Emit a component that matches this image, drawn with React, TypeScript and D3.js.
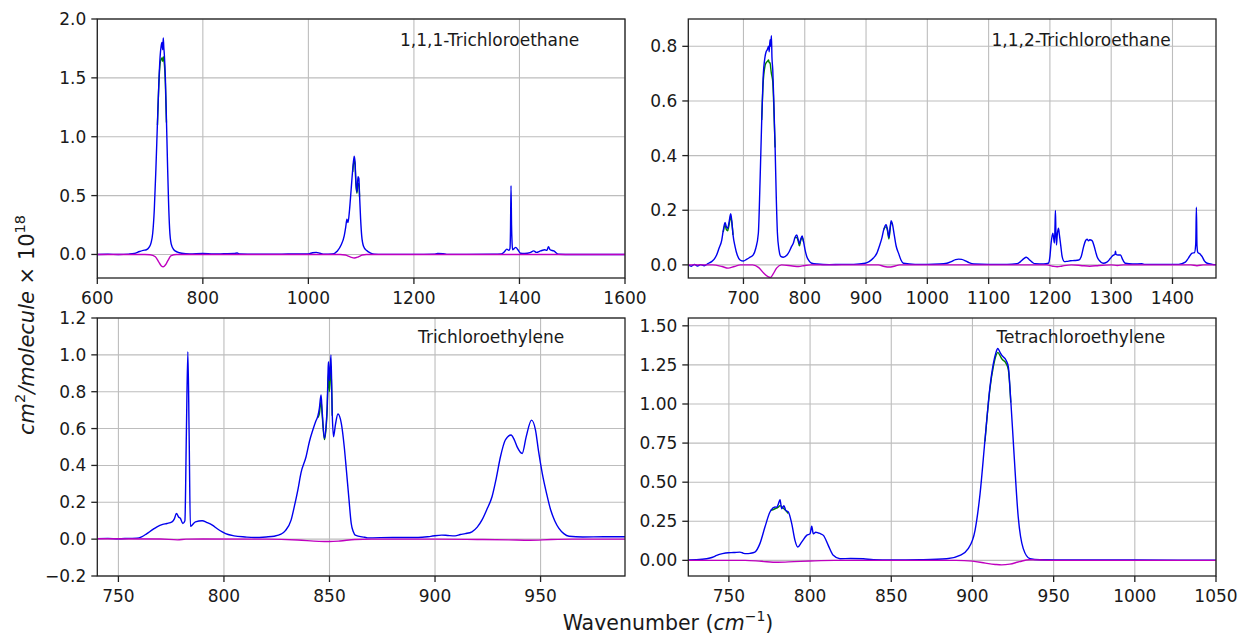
import React from "react";
import * as d3 from "d3";

// ---------- Panel 1: 1,1,1-Trichloroethane ----------
const p1Wn = [600, 620, 640, 660, 670, 680, 687, 693, 698, 702, 705, 708, 711, 714, 717, 719, 721, 722.5, 724, 725, 726, 727, 729, 731, 733, 735, 737, 740, 745, 752, 760, 775, 800, 820, 840, 860, 865, 870, 900, 950, 1000, 1008, 1015, 1022, 1030, 1045, 1055, 1062, 1068, 1071, 1073, 1075, 1078, 1081, 1084, 1086.8, 1088.5, 1090, 1092, 1094, 1095.7, 1097, 1099, 1101, 1104.5, 1110, 1118, 1125, 1140, 1200, 1238, 1245, 1255, 1262, 1300, 1350, 1366, 1372, 1376, 1380, 1382, 1383, 1384, 1385, 1386, 1387, 1390, 1393, 1397, 1402, 1410, 1420, 1427, 1432, 1440, 1448, 1452, 1455, 1458, 1465, 1474, 1500, 1550, 1600];
const p1Blue = [0.0, 0.002, 0.0, 0.003, 0.008, 0.025, 0.035, 0.04, 0.06, 0.1, 0.18, 0.38, 0.72, 1.12, 1.5, 1.68, 1.77, 1.8, 1.74, 1.84, 1.76, 1.7, 1.5, 1.15, 0.78, 0.45, 0.22, 0.09, 0.04, 0.02, 0.01, 0.004, 0.008, 0.004, 0.006, 0.008, 0.012, 0.004, 0.002, 0.003, 0.005, 0.015, 0.018, 0.01, 0.002, 0.004, 0.03, 0.08, 0.16, 0.24, 0.3, 0.27, 0.38, 0.55, 0.72, 0.835, 0.78, 0.62, 0.53, 0.66, 0.645, 0.5, 0.3, 0.16, 0.07, 0.035, 0.012, 0.003, 0.001, 0.001, 0.003, 0.008, 0.006, 0.001, 0.001, 0.002, 0.005, 0.025, 0.045, 0.035, 0.05, 0.2, 0.585, 0.25, 0.1, 0.04, 0.05, 0.06, 0.04, 0.01, 0.008, 0.015, 0.03, 0.018, 0.03, 0.04, 0.035, 0.065, 0.04, 0.03, 0.002, 0.0, 0.0, 0.0];
const p1GreenWn = [714, 717, 719, 721, 722.5, 724, 725, 726, 727, 729, 731];
const p1Green = [1.1, 1.48, 1.62, 1.66, 1.67, 1.64, 1.68, 1.65, 1.62, 1.45, 1.12];
const p1Green2Wn = [1084, 1086.8, 1088.5, 1090, 1092, 1094, 1095.7, 1097];
const p1Green2 = [0.7, 0.8, 0.76, 0.6, 0.52, 0.6, 0.6, 0.49];
const p1MagWn = [600, 690, 700, 710, 716, 721, 725, 729, 734, 740, 750, 1060, 1070, 1080, 1087, 1094, 1102, 1110, 1600];
const p1Mag = [0, 0, -0.002, -0.02, -0.06, -0.095, -0.105, -0.09, -0.05, -0.01, 0, 0, -0.005, -0.022, -0.03, -0.022, -0.005, 0, 0];

// ---------- Panel 2: 1,1,2-Trichloroethane ----------
const p2Wn = [610, 615, 620, 625, 630, 636, 642, 648, 652, 656, 660, 664.5, 667, 670, 672, 674.3, 676, 679.2, 681, 683, 686.3, 690, 694.4, 699.9, 705, 710, 716, 720, 724.3, 727, 729.8, 732, 735.3, 737, 739, 741, 742, 743.4, 744.5, 745.6, 746.5, 747.8, 749.5, 751.6, 753.5, 755.4, 758, 760.9, 765, 770.7, 775, 778, 781.5, 784, 787, 789, 791.3, 793.5, 795.7, 798, 800.5, 803.4, 807, 811.5, 820, 840, 860, 880, 898.6, 905, 912, 917.7, 922, 926, 929, 932.7, 935, 937.3, 939, 941, 943, 946, 949, 953, 957, 961, 980, 1000, 1020, 1032, 1040, 1046, 1051, 1056, 1062, 1068, 1076, 1100, 1130, 1146, 1152, 1157, 1161.5, 1166, 1171, 1176, 1190, 1197.5, 1200, 1202, 1204.7, 1206, 1207.4, 1208.3, 1209, 1209.8, 1210.7, 1212, 1214, 1215.5, 1217.9, 1220, 1223.6, 1228, 1233.4, 1240, 1247, 1251, 1255, 1258, 1260.7, 1263, 1265, 1268.8, 1272, 1275, 1277, 1281, 1286.8, 1293, 1298.8, 1303, 1306, 1307, 1308, 1311, 1315, 1319, 1323, 1335, 1350, 1355, 1380, 1410, 1421, 1426, 1432, 1436, 1438, 1439, 1440, 1441.3, 1445, 1448.4, 1452, 1456.6, 1465, 1471];
const p2Blue = [0.0, -0.005, 0.002, -0.004, 0.001, -0.003, 0.005, 0.012, 0.02, 0.035, 0.06, 0.09, 0.125, 0.155, 0.14, 0.134, 0.15, 0.187, 0.16, 0.11, 0.067, 0.035, 0.018, 0.014, 0.02, 0.027, 0.037, 0.06, 0.116, 0.3, 0.53, 0.68, 0.763, 0.78, 0.788, 0.8, 0.78, 0.824, 0.8, 0.839, 0.76, 0.714, 0.6, 0.433, 0.25, 0.117, 0.055, 0.031, 0.028, 0.035, 0.05, 0.065, 0.08, 0.1, 0.11, 0.095, 0.077, 0.095, 0.106, 0.085, 0.055, 0.03, 0.015, 0.006, 0.003, 0.001, 0.002, 0.002, 0.006, 0.012, 0.025, 0.043, 0.07, 0.1, 0.13, 0.147, 0.13, 0.101, 0.13, 0.162, 0.15, 0.11, 0.07, 0.043, 0.018, 0.006, 0.002, 0.002, 0.003, 0.006, 0.013, 0.019, 0.021, 0.02, 0.015, 0.008, 0.003, 0.002, 0.002, 0.004, 0.012, 0.022, 0.028, 0.02, 0.01, 0.004, 0.003, 0.006, 0.03, 0.08, 0.116, 0.1, 0.08, 0.14, 0.199, 0.12, 0.073, 0.11, 0.134, 0.11, 0.067, 0.03, 0.012, 0.013, 0.015, 0.016, 0.018, 0.03, 0.067, 0.088, 0.094, 0.088, 0.092, 0.089, 0.07, 0.045, 0.03, 0.015, 0.006, 0.01, 0.024, 0.035, 0.038, 0.05, 0.038, 0.036, 0.036, 0.018, 0.006, 0.003, 0.004, 0.002, 0.002, 0.002, 0.01, 0.025, 0.043, 0.045, 0.08, 0.211, 0.07, 0.046, 0.04, 0.03, 0.015, 0.006, 0.002, 0.001];
const p2GreenWn = [667, 670, 672, 674.3, 676, 679.2, 681, 683];
const p2Green = [0.12, 0.145, 0.13, 0.125, 0.14, 0.175, 0.155, 0.11];
const p2Green2Wn = [729.8, 732, 735.3, 737, 739, 741, 742, 743.4, 744.5, 745.6, 746.5, 747.8, 749.5, 751.6];
const p2Green2 = [0.53, 0.66, 0.73, 0.74, 0.745, 0.75, 0.74, 0.74, 0.72, 0.7, 0.69, 0.67, 0.58, 0.43];
const p2Green3Wn = [784, 787, 789, 791.3, 793.5, 795.7, 798];
const p2Green3 = [0.1, 0.1, 0.09, 0.07, 0.09, 0.1, 0.085];
const p2Green4Wn = [929, 932.7, 935, 937.3, 939, 941, 943];
const p2Green4 = [0.13, 0.14, 0.125, 0.095, 0.125, 0.155, 0.15];
const p2MagWn = [610, 650, 665, 675, 685, 695, 715, 725, 733, 740, 744, 748, 754, 762, 780, 790, 800, 810, 920, 930, 938, 946, 955, 1195, 1205, 1212, 1220, 1235, 1250, 1265, 1280, 1300, 1310, 1320, 1430, 1440, 1450, 1471];
const p2Mag = [0, 0, -0.006, -0.012, -0.006, 0, 0, -0.01, -0.03, -0.043, -0.046, -0.035, -0.012, 0, -0.004, -0.006, -0.002, 0, 0, -0.006, -0.008, -0.005, 0, 0, -0.005, -0.007, -0.004, 0, -0.002, -0.005, -0.002, 0, -0.002, 0, 0, -0.003, 0, 0];

// ---------- Panel 3: Trichloroethylene ----------
const p3Wn = [740, 745, 750, 755, 758.8, 761, 763.5, 766, 768.3, 771, 773, 775.4, 776.5, 777.5, 778.5, 779.4, 780.5, 781.5, 782.2, 782.9, 783.5, 784.1, 786.5, 789.7, 792, 794.5, 797, 799.2, 802, 804.8, 810, 814.3, 820, 823.8, 827, 829, 831.8, 833.3, 835, 836.5, 838.9, 840.5, 842.1, 843.5, 844.5, 845.2, 846, 846.5, 847.6, 848.4, 848.9, 849.3, 849.5, 850, 850.7, 851.3, 851.9, 852.8, 854, 855.6, 857, 858, 859.2, 860.3, 861.3, 862.2, 866.7, 868, 880, 892, 898, 903.2, 906, 909.5, 912, 914.3, 917.5, 920, 922.2, 924.5, 927, 929, 931, 933.3, 936, 937.5, 938.9, 941.3, 943.2, 945.7, 947.6, 949, 950.8, 952.8, 954.8, 956.7, 958.7, 961, 963.5, 970, 980, 990];
const p3Blue = [0.003, 0.004, 0.002, 0.004, 0.005, 0.012, 0.03, 0.05, 0.067, 0.08, 0.085, 0.094, 0.11, 0.14, 0.12, 0.112, 0.085, 0.1, 0.574, 1.017, 0.574, 0.07, 0.094, 0.1, 0.09, 0.076, 0.055, 0.04, 0.025, 0.018, 0.012, 0.009, 0.012, 0.016, 0.027, 0.045, 0.103, 0.175, 0.266, 0.36, 0.447, 0.53, 0.592, 0.64, 0.668, 0.71, 0.782, 0.7, 0.547, 0.62, 0.719, 0.9, 0.963, 0.86, 0.999, 0.683, 0.556, 0.62, 0.679, 0.628, 0.5, 0.375, 0.22, 0.085, 0.04, 0.022, 0.01, 0.007, 0.009, 0.009, 0.015, 0.022, 0.02, 0.018, 0.025, 0.03, 0.04, 0.065, 0.103, 0.16, 0.23, 0.33, 0.447, 0.538, 0.565, 0.54, 0.501, 0.465, 0.556, 0.646, 0.592, 0.48, 0.357, 0.25, 0.158, 0.1, 0.058, 0.03, 0.016, 0.012, 0.013, 0.013];
const p3GreenWn = [844.5, 845.2, 846, 846.5, 847.6, 848.9, 849.5, 850, 850.7, 851.3];
const p3Green = [0.66, 0.68, 0.75, 0.68, 0.54, 0.7, 0.9, 0.8, 0.94, 0.67];
const p3MagWn = [740, 770, 778, 782, 790, 820, 835, 845, 850, 855, 862, 870, 900, 920, 935, 945, 955, 965, 990];
const p3Mag = [0.002, 0.001, -0.004, 0.0, 0.001, 0, -0.005, -0.012, -0.013, -0.01, -0.002, 0, 0, -0.002, -0.004, -0.006, -0.002, 0, 0];

// ---------- Panel 4: Tetrachloroethylene ----------
const p4Wn = [725, 730, 736.3, 740, 742.5, 746, 749.6, 753, 756.8, 759, 760.9, 763, 766, 769.1, 772.2, 775.3, 778.4, 779.5, 780.4, 781.5, 782.5, 783.9, 785, 786.6, 788.7, 790.7, 792.4, 794.8, 797.9, 800, 801, 802, 803.5, 805.1, 806.5, 808.2, 811.2, 814.3, 818.4, 825, 832.8, 839, 850, 867.7, 884.1, 892.3, 897.4, 901.6, 904.7, 907.7, 910.8, 912.9, 914.5, 915.6, 917, 918, 920.7, 922.1, 923.6, 925.6, 928.2, 931.3, 935.5, 941.6, 960, 980, 1000, 1050];
const p4Blue = [0.003, 0.004, 0.01, 0.02, 0.032, 0.043, 0.049, 0.05, 0.053, 0.045, 0.043, 0.045, 0.053, 0.107, 0.213, 0.309, 0.341, 0.34, 0.358, 0.388, 0.33, 0.35, 0.32, 0.31, 0.235, 0.128, 0.085, 0.117, 0.16, 0.17, 0.218, 0.17, 0.18, 0.175, 0.17, 0.16, 0.096, 0.032, 0.01, 0.012, 0.01, 0.004, 0.002, 0.004, 0.01, 0.032, 0.075, 0.192, 0.427, 0.768, 1.11, 1.259, 1.33, 1.355, 1.33, 1.312, 1.28, 1.238, 1.024, 0.683, 0.277, 0.075, 0.01, 0.004, 0.002, 0.003, 0.002, 0.001];
const p4GreenWn = [776, 778.4, 780.4, 781.5, 783.9, 786.6];
const p4Green = [0.32, 0.33, 0.34, 0.35, 0.33, 0.3];
const p4Green2Wn = [907.7, 910.8, 912.9, 914.5, 915.6, 917, 918, 920.7, 922.1, 923.6];
const p4Green2 = [0.76, 1.1, 1.24, 1.31, 1.33, 1.31, 1.29, 1.26, 1.22, 1.01];
const p4MagWn = [725, 760, 770, 780, 790, 800, 815, 890, 900, 908, 914, 918, 923, 929, 935, 942, 950, 1050];
const p4Mag = [0.0, 0, -0.006, -0.012, -0.008, -0.004, 0, 0, -0.005, -0.018, -0.026, -0.029, -0.024, -0.008, 0.004, 0.002, 0, 0];

// ---------- Ticks / labels ----------
const p1XTicks = [600, 800, 1000, 1200, 1400, 1600];
const p1YTicks = [0.0, 0.5, 1.0, 1.5, 2.0];
const p2XTicks = [700, 800, 900, 1000, 1100, 1200, 1300, 1400];
const p2YTicks = [0.0, 0.2, 0.4, 0.6, 0.8];
const p3XTicks = [750, 800, 850, 900, 950];
const p3YTicks = [-0.2, 0.0, 0.2, 0.4, 0.6, 0.8, 1.0, 1.2];
const p4XTicks = [750, 800, 850, 900, 950, 1000, 1050];
const p4YTicks = [0.0, 0.25, 0.5, 0.75, 1.0, 1.25, 1.5];
const titles = ["1,1,1-Trichloroethane", "1,1,2-Trichloroethane", "Trichloroethylene", "Tetrachloroethylene"];

const BLUE = "#0000ee";
const GREEN = "#008000";
const MAG = "#bf00bf";
const FONT = "'DejaVu Sans', sans-serif";
const TXT = "#1a1a1a";

type Series = { wn: number[]; v: number[]; color: string };
type PanelDef = {
  box: [number, number, number, number];
  xDom: [number, number];
  yDom: [number, number];
  xTicks: number[];
  yTicks: number[];
  yFmt: string;
  title: string;
  titlePos: [number, number];
  series: Series[];
};

const panels: PanelDef[] = [
  {
    box: [97.3, 19, 625, 278], xDom: [600, 1600], yDom: [-0.2, 2.0],
    xTicks: p1XTicks, yTicks: p1YTicks, yFmt: ".1f", title: titles[0], titlePos: [400, 46],
    series: [
      { wn: p1GreenWn, v: p1Green, color: GREEN },
      { wn: p1Green2Wn, v: p1Green2, color: GREEN },
      { wn: p1Wn, v: p1Blue, color: BLUE },
      { wn: p1MagWn, v: p1Mag, color: MAG },
    ],
  },
  {
    box: [688.3, 19, 1216, 278], xDom: [610, 1471], yDom: [-0.048, 0.9],
    xTicks: p2XTicks, yTicks: p2YTicks, yFmt: ".1f", title: titles[1], titlePos: [991.5, 46],
    series: [
      { wn: p2GreenWn, v: p2Green, color: GREEN },
      { wn: p2Green2Wn, v: p2Green2, color: GREEN },
      { wn: p2Green3Wn, v: p2Green3, color: GREEN },
      { wn: p2Green4Wn, v: p2Green4, color: GREEN },
      { wn: p2Wn, v: p2Blue, color: BLUE },
      { wn: p2MagWn, v: p2Mag, color: MAG },
    ],
  },
  {
    box: [97.3, 318, 625, 576], xDom: [740, 990], yDom: [-0.2, 1.2],
    xTicks: p3XTicks, yTicks: p3YTicks, yFmt: ".1f", title: titles[2], titlePos: [418, 343],
    series: [
      { wn: p3GreenWn, v: p3Green, color: GREEN },
      { wn: p3Wn, v: p3Blue, color: BLUE },
      { wn: p3MagWn, v: p3Mag, color: MAG },
    ],
  },
  {
    box: [688.3, 318, 1216, 576], xDom: [725, 1050], yDom: [-0.1, 1.55],
    xTicks: p4XTicks, yTicks: p4YTicks, yFmt: ".2f", title: titles[3], titlePos: [996.5, 343],
    series: [
      { wn: p4GreenWn, v: p4Green, color: GREEN },
      { wn: p4Green2Wn, v: p4Green2, color: GREEN },
      { wn: p4Wn, v: p4Blue, color: BLUE },
      { wn: p4MagWn, v: p4Mag, color: MAG },
    ],
  },
];

function Panel({ p, idx }: { p: PanelDef; idx: number }) {
  const [x0, y0, x1, y1] = p.box;
  const x = d3.scaleLinear().domain(p.xDom).range([x0, x1]);
  const y = d3.scaleLinear().domain(p.yDom).range([y1, y0]);
  const fmt = d3.format(p.yFmt);
  const fmtY = (v: number) => fmt(v).replace("-", "\u2212");
  const clipId = `clip${idx}`;
  return (
    <g>
      <defs>
        <clipPath id={clipId}>
          <rect x={x0} y={y0} width={x1 - x0} height={y1 - y0} />
        </clipPath>
      </defs>
      <rect x={x0} y={y0} width={x1 - x0} height={y1 - y0} fill="#fff" />
      {p.xTicks.map((t) => (
        <line key={"gx" + t} x1={x(t)} x2={x(t)} y1={y0} y2={y1} stroke="#bdbdbd" strokeWidth={1.1} />
      ))}
      {p.yTicks.map((t) => (
        <line key={"gy" + t} x1={x0} x2={x1} y1={y(t)} y2={y(t)} stroke="#bdbdbd" strokeWidth={1.1} />
      ))}
      <g clipPath={`url(#${clipId})`}>
        {p.series.map((s, i) => {
          const pts = s.wn.map((w, k) => [w, s.v[k]] as [number, number]);
          const line = d3
            .line<[number, number]>()
            .x((d) => x(d[0]))
            .y((d) => y(d[1]))
            .curve(d3.curveMonotoneX);
          return <path key={i} d={line(pts) || ""} fill="none" stroke={s.color} strokeWidth={1.4} strokeLinejoin="round" />;
        })}
      </g>
      <rect x={x0} y={y0} width={x1 - x0} height={y1 - y0} fill="none" stroke="#222" strokeWidth={1.3} />
      {p.xTicks.map((t) => (
        <g key={"tx" + t}>
          <line x1={x(t)} x2={x(t)} y1={y1} y2={y1 + 6} stroke="#222" strokeWidth={1.3} />
          <text x={x(t)} y={y1 + 26} textAnchor="middle" fontSize={17} fontFamily={FONT} fill={TXT}>{t}</text>
        </g>
      ))}
      {p.yTicks.map((t) => (
        <g key={"ty" + t}>
          <line x1={x0 - 6} x2={x0} y1={y(t)} y2={y(t)} stroke="#222" strokeWidth={1.3} />
          <text x={x0 - 11} y={y(t) + 6} textAnchor="end" fontSize={17} fontFamily={FONT} fill={TXT}>{fmtY(t)}</text>
        </g>
      ))}
      <text x={p.titlePos[0]} y={p.titlePos[1]} fontSize={17} fontFamily={FONT} fill={TXT}>{p.title}</text>
    </g>
  );
}

export default function App() {
  return (
    <svg width={1240} height={636} style={{ position: "absolute", left: 0, top: 0, background: "#fff" }}>
      <rect x={0} y={0} width={1240} height={636} fill="#fff" />
      {panels.map((p, i) => (
        <Panel key={i} p={p} idx={i} />
      ))}
      <text transform="translate(34,325) rotate(-90)" textAnchor="middle" fontSize={21} fontFamily={FONT} fill={TXT}>
        <tspan fontStyle="italic">cm</tspan>
        <tspan fontSize={14.5} dy={-9}>2</tspan>
        <tspan fontStyle="italic" dy={9}>/molecule</tspan>
        <tspan> × 10</tspan>
        <tspan fontSize={14.5} dy={-9}>18</tspan>
      </text>
      <text x={668} y={630} textAnchor="middle" fontSize={20.5} fontFamily={FONT} fill={TXT}>
        <tspan>Wavenumber (</tspan>
        <tspan fontStyle="italic">cm</tspan>
        <tspan fontSize={14} dy={-9}>−1</tspan>
        <tspan dy={9}>)</tspan>
      </text>
    </svg>
  );
}
